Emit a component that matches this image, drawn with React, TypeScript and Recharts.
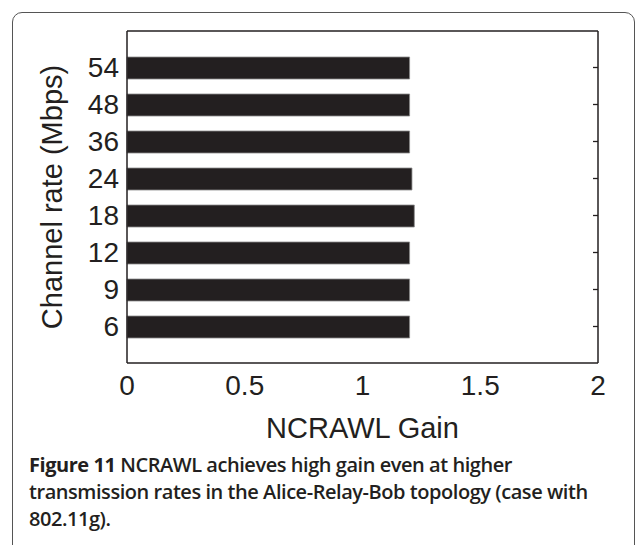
import { Bar, BarChart, XAxis, YAxis } from "recharts";

// Channel rates, top to bottom as drawn
const rates = ["54", "48", "36", "24", "18", "12", "9", "6"];
const gains = [1.2, 1.2, 1.2, 1.21, 1.22, 1.2, 1.2, 1.2];
const gainTicks = [0, 0.5, 1, 1.5, 2];
const innerTicks = [0.5, 1, 1.5];

const data = rates.map((rate, i) => ({ rate, gain: gains[i] }));

const INK = "#231f20";
const FONT = "'Liberation Sans', Arial, Helvetica, sans-serif";
// half a category of empty space above and below, like matlab's ylim [0 9]
const catPad = { top: 18, bottom: 18 };

// matlab-style tick pointing into the plot box; x/y come from the axis scale
const inwardTick = (dx: number, dy: number) => (props: any) => (
  <line x1={props.x} y1={props.y} x2={props.x + dx} y2={props.y + dy} stroke={INK} strokeWidth={1.3} />
);

export default function App() {
  return (
    <div style={{ position: "absolute", left: 0, top: 0, width: 635, height: 545, overflow: "hidden", background: "#fff" }}>
      <div
        style={{
          position: "absolute",
          left: 12,
          top: 12,
          width: 623,
          height: 600,
          boxSizing: "border-box",
          border: "1.5px solid #555",
          borderRadius: 10,
        }}
      />
      <div style={{ position: "absolute", left: 0, top: 0 }}>
        <BarChart
          width={635}
          height={460}
          data={data}
          layout="vertical"
          margin={{ top: 31, right: 37, left: 13, bottom: 17 }}
          style={{ fontFamily: FONT }}
        >
          <XAxis
            xAxisId="b"
            type="number"
            domain={[0, 2]}
            ticks={gainTicks}
            height={80}
            tickLine={false}
            tickMargin={6}
            axisLine={{ stroke: INK, strokeWidth: 1.5 }}
            tick={{ fill: INK, fontSize: 28 }}
            label={{ value: "NCRAWL Gain", position: "insideBottom", offset: 5, fill: INK, fontSize: 29 }}
          />
          <XAxis
            xAxisId="bt"
            orientation="bottom"
            mirror
            type="number"
            domain={[0, 2]}
            ticks={innerTicks}
            tick={inwardTick(0, -5)}
            tickSize={0}
            tickMargin={0}
            tickLine={false}
            axisLine={false}
          />
          <XAxis
            xAxisId="t"
            orientation="top"
            mirror
            type="number"
            domain={[0, 2]}
            ticks={innerTicks}
            tick={inwardTick(0, 5)}
            tickSize={0}
            tickMargin={0}
            tickLine={false}
            axisLine={{ stroke: INK, strokeWidth: 1.5 }}
          />
          <YAxis
            yAxisId="l"
            type="category"
            dataKey="rate"
            width={114}
            padding={catPad}
            tickLine={false}
            axisLine={{ stroke: INK, strokeWidth: 1.5 }}
            tick={{ fill: INK, fontSize: 28 }}
            label={{ value: "Channel rate (Mbps)", angle: -90, position: "center", dx: -18, fill: INK, fontSize: 29 }}
          />
          <YAxis
            yAxisId="r"
            orientation="right"
            mirror
            type="category"
            dataKey="rate"
            padding={catPad}
            tick={inwardTick(-5, 0)}
            tickSize={0}
            tickMargin={0}
            tickLine={false}
            axisLine={{ stroke: INK, strokeWidth: 1.5 }}
          />
          <Bar
            xAxisId="b"
            yAxisId="l"
            dataKey="gain"
            fill={INK}
            stroke="#8a8a8a"
            strokeWidth={0.8}
            barSize={22}
            isAnimationActive={false}
          />
        </BarChart>
      </div>
      <div
        style={{
          position: "absolute",
          left: 29,
          top: 451,
          width: 606,
          fontFamily: "'Open Sans', 'Noto Sans', sans-serif",
          fontWeight: 600,
          fontSize: 20,
          lineHeight: "27px",
          color: INK,
          letterSpacing: -0.45,
          whiteSpace: "nowrap",
        }}
      >
        <div>
          <b style={{ fontWeight: 700 }}>Figure 11</b> NCRAWL achieves high gain even at higher
        </div>
        <div>transmission rates in the Alice-Relay-Bob topology (case with</div>
        <div>802.11g).</div>
      </div>
    </div>
  );
}
